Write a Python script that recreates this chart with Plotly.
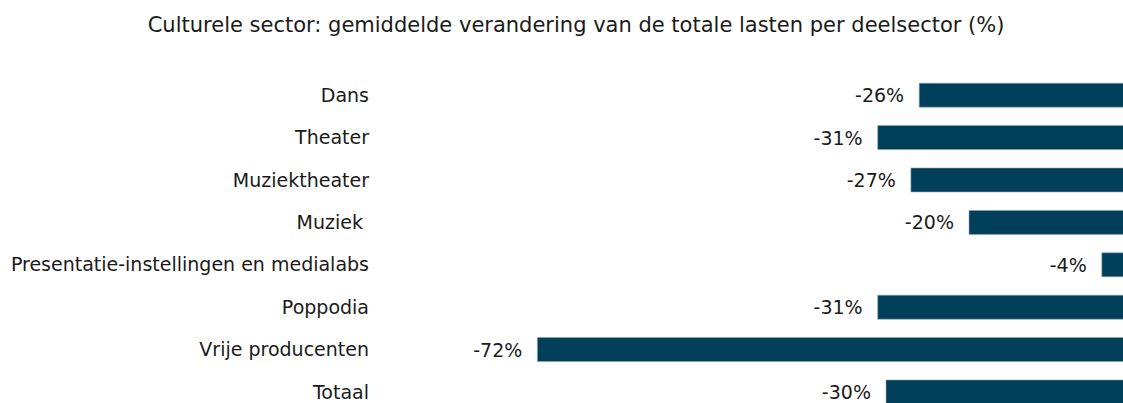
import plotly.graph_objects as go

# deelsectoren, top to bottom
categories = ['Dans', 'Theater', 'Muziektheater', 'Muziek ',
              'Presentatie-instellingen en medialabs', 'Poppodia',
              'Vrije producenten', 'Totaal']
values = [-26, -31, -27, -20, -4, -31, -72, -30]
labels = ['-26%', '-31%', '-27%', '-20%', '-4%', '-31%', '-72%', '-30%']

title = 'Culturele sector: gemiddelde verandering van de totale lasten per deelsector (%)'

FONT = 'DejaVu Sans'

bar = go.Bar(
    x=values,
    y=categories,
    orientation='h',
    width=0.566,
    marker=dict(color='#003f5a', line=dict(color='#8aa6b6', width=0.6)),
    text=labels,
    texttemplate='%{text}  ',
    textposition='outside',
    textfont=dict(family=FONT, size=19, color='#1a1a1a'),
    cliponaxis=True,
)

layout = go.Layout(
    template='none',
    width=1123,
    height=403,
    margin=dict(l=378, r=0, t=74, b=0, pad=0, autoexpand=False),
    paper_bgcolor='white',
    plot_bgcolor='white',
    showlegend=False,
    title=dict(text=title, x=0.513, xanchor='center', y=0.938, yanchor='middle',
               font=dict(family=FONT, size=21, color='#1a1a1a')),
    # zero sits just past the right edge of the picture
    xaxis=dict(range=[-91.2, -1.45], visible=False, fixedrange=True, automargin=False),
    yaxis=dict(range=[7.26, -0.5], type='category', showgrid=False, zeroline=False,
               showline=False, ticks='', ticklabelstandoff=8, automargin=False,
               fixedrange=True,
               tickfont=dict(family=FONT, size=19, color='#1a1a1a')),
    font=dict(family=FONT),
)

fig = go.Figure(data=[bar], layout=layout)
fig.write_html('out.html', config={'displayModeBar': False},
               post_script="document.body.style.margin='0px';document.body.style.overflow='hidden';")
